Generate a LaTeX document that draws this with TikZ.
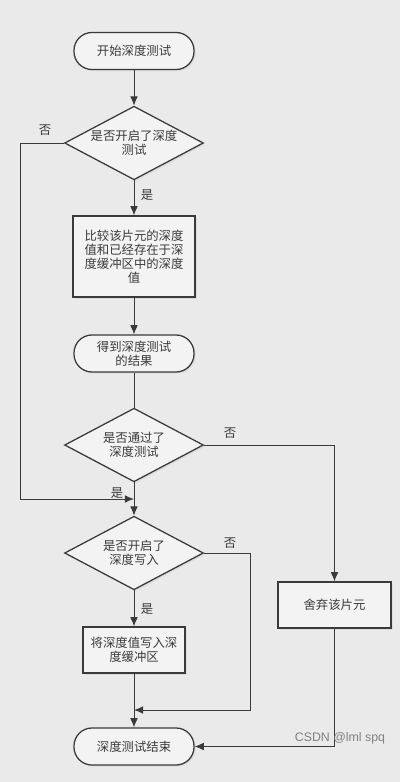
\documentclass[tikz,border=0pt]{standalone}
\usepackage{fontspec}
\setmainfont{Noto Sans CJK SC}
\newfontfamily\wmfont{Liberation Sans}
\usetikzlibrary{shapes.geometric,arrows.meta,shadows}
\definecolor{paper}{HTML}{EAEAEA}
\definecolor{boxfill}{HTML}{F3F3F3}
\definecolor{ink}{HTML}{3A3A3A}
\begin{document}
\begin{tikzpicture}
[x=0.025cm, y=-0.025cm,
 font=\fontsize{8.8}{10}\selectfont,
 every node/.style={text=ink},
 chartbox/.style={draw=ink, line width=0.9pt, fill=boxfill, align=center, inner sep=0pt,
   drop shadow={shadow xshift=1.2pt, shadow yshift=-1.2pt, fill=gray!35}},
 term/.style={chartbox, rectangle, rounded corners=0.45cm, minimum width=3cm, minimum height=0.925cm},
 proc/.style={chartbox, rectangle},
 deci/.style={chartbox, diamond, aspect=1.9, minimum width=3.47cm, minimum height=1.84cm},
 flow/.style={draw=ink, line width=0.7pt},
 arr/.style={flow, -{Latex[length=6.5pt, width=5.5pt]}}]

\useasboundingbox [fill=paper] (0,0) rectangle (400,782);

\node [term] (start) at (134,51) {开始深度测试};
\node [deci] (teston) at (134,143) {是否开启了深度\\测试};
\node [proc, minimum width=3.05cm, minimum height=2.025cm] (compare) at (134,256.5)
  {比较该片元的深度\\值和已经存在于深\\度缓冲区中的深度\\值};
\node [term] (result) at (134,353.5) {得到深度测试\\的结果};
\node [deci] (passed) at (134,445) {是否通过了\\深度测试};
\node [deci] (writeon) at (134,553) {是否开启了\\深度写入};
\node [proc, minimum width=2.55cm, minimum height=1.15cm] (write) at (134,650) {将深度值写入深\\度缓冲区};
\node [term] (finish) at (134,746.5) {深度测试结束};
\node [proc, minimum width=2.825cm, minimum height=1.15cm] (discard) at (334.5,605) {舍弃该片元};

\coordinate (join1) at (134,499);
\coordinate (join2) at (134,710);

\draw [arr] (start) -- (teston);
\draw [arr] (teston) -- (compare);
\draw [arr] (teston.west) -- (20,143) -- (20,499) -- (join1);
\draw [arr] (compare) -- (result);
\draw [flow] (result) -- (passed);
\draw [arr] (passed) -- (writeon);
\draw [arr] (passed.east) -| (discard.north);
\draw [arr] (writeon) -- (write);
\draw [arr] (writeon.east) -- (250,553) -- (250,710) -- (join2);
\draw [arr] (write) -- (finish);
\draw [arr] (discard.south) |- (finish.east);

\node at (45,130) {否};
\node at (147,195) {是};
\node at (230,433) {否};
\node at (117,493) {是};
\node at (230,543) {否};
\node at (147,609) {是};

\node [text=gray, font=\wmfont\fontsize{8.8}{10}\selectfont] (mark) at (340,738) {CSDN @lml spq};
\end{tikzpicture}
\end{document}
